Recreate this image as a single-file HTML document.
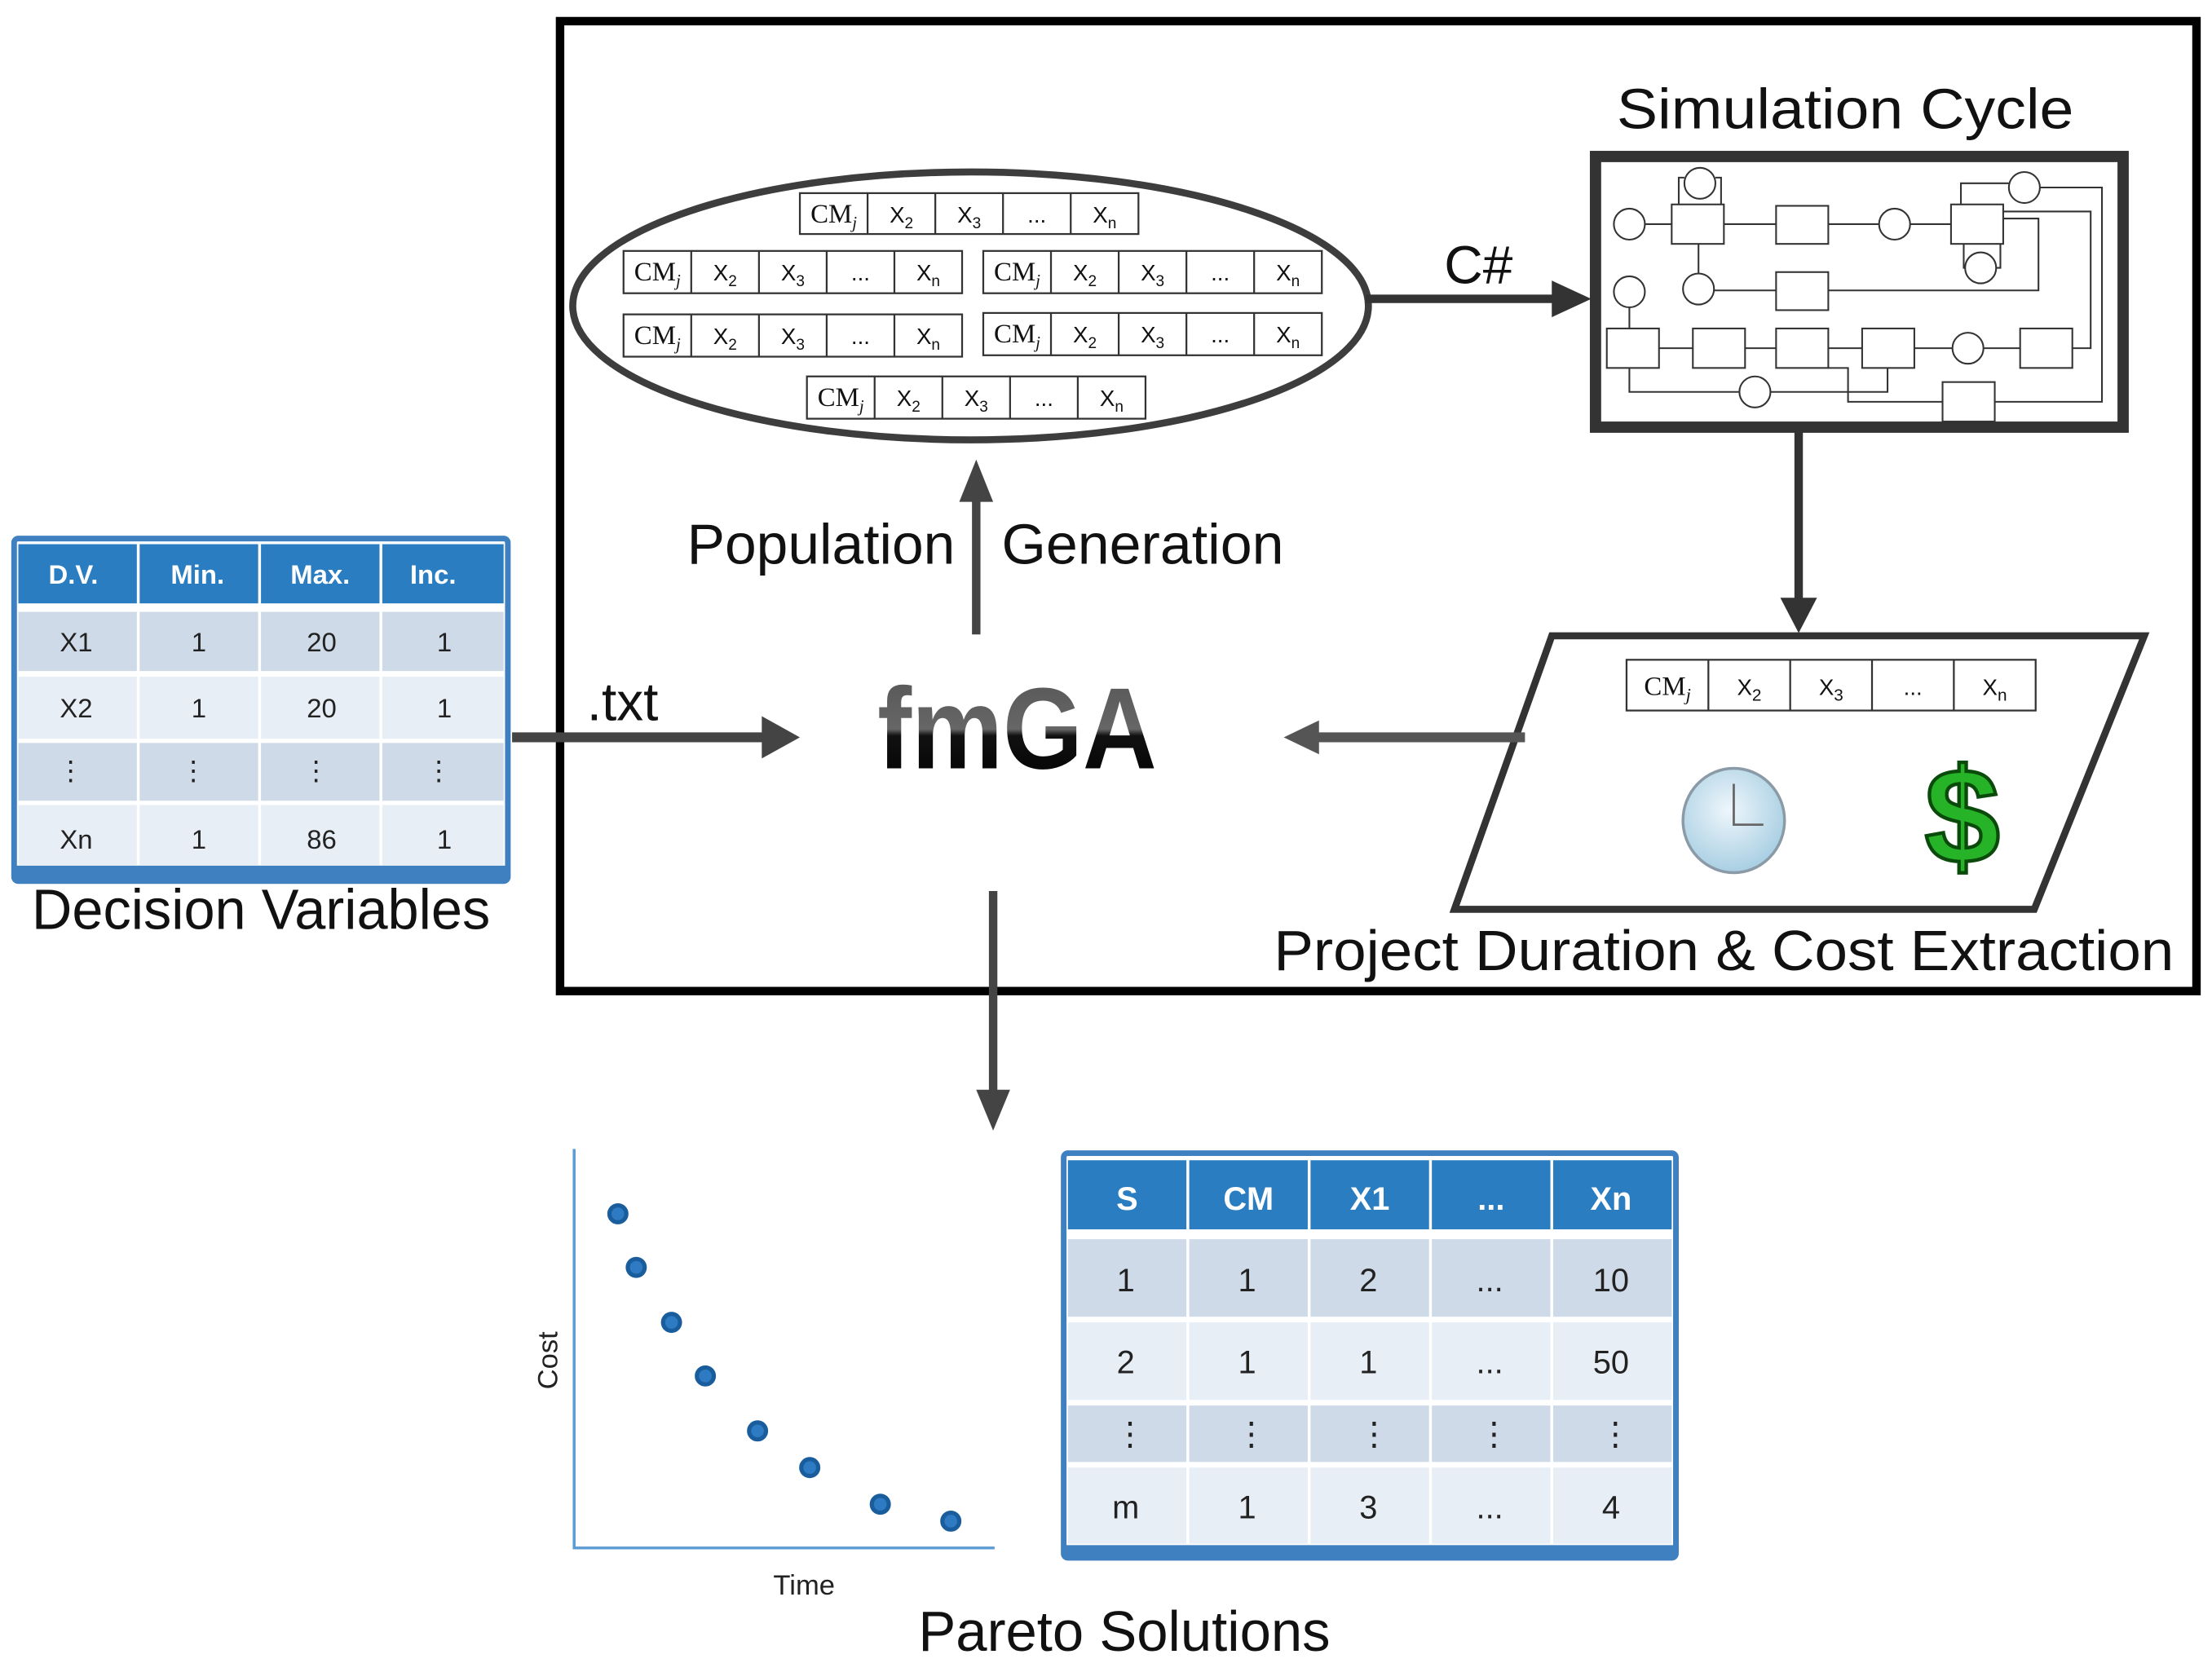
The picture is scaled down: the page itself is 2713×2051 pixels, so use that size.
<!DOCTYPE html>
<html><head><meta charset="utf-8"><style>
html,body{margin:0;padding:0;background:#fff;}
svg{display:block;}
text{font-family:"Liberation Sans",sans-serif;}
.cm{font-family:"Liberation Serif",serif;font-size:19px;fill:#111;}
.sm{font-family:"Liberation Sans",sans-serif;font-size:16px;fill:#111;}
.hd{font-family:"Liberation Sans",sans-serif;font-weight:bold;fill:#fff;}
.td{font-family:"Liberation Sans",sans-serif;fill:#222;}
</style></head><body>
<svg width="2713" height="2051" viewBox="0 0 1568 1186" preserveAspectRatio="none" xmlns="http://www.w3.org/2000/svg">
<defs>
<linearGradient id="fg" x1="0" y1="0" x2="0" y2="1">
<stop offset="0" stop-color="#555"/><stop offset="0.5" stop-color="#666"/><stop offset="0.55" stop-color="#111"/><stop offset="1" stop-color="#000"/>
</linearGradient>
<radialGradient id="clk" cx="0.45" cy="0.4" r="0.6"><stop offset="0" stop-color="#eef6fb"/><stop offset="1" stop-color="#a9cfe3"/></radialGradient>
</defs>

<!-- outer box -->
<rect x="397" y="15" width="1160" height="688" fill="none" stroke="#000" stroke-width="6"/>

<!-- ellipse population -->
<ellipse cx="688" cy="217" rx="282" ry="95" fill="none" stroke="#3d3d3d" stroke-width="5"/>

<!-- chromosome rows -->
<g id="r1" transform="translate(567,137)">
<rect width="240" height="29" fill="#fff" stroke="#333" stroke-width="1.3"/>
<path d="M48 0V29M96 0V29M144 0V29M192 0V29" stroke="#333" stroke-width="1.3"/>
<text x="24" y="21" text-anchor="middle" class="cm">CM<tspan font-size="12" dy="4" font-style="italic">j</tspan></text>
<text x="72" y="21" text-anchor="middle" class="sm">X<tspan font-size="11" dy="4">2</tspan></text>
<text x="120" y="21" text-anchor="middle" class="sm">X<tspan font-size="11" dy="4">3</tspan></text>
<text x="168" y="21" text-anchor="middle" class="sm">...</text>
<text x="216" y="21" text-anchor="middle" class="sm">X<tspan font-size="11" dy="4">n</tspan></text>
</g>
<g transform="translate(442,178)">
<rect width="240" height="30" fill="#fff" stroke="#333" stroke-width="1.3"/>
<path d="M48 0V30M96 0V30M144 0V30M192 0V30" stroke="#333" stroke-width="1.3"/>
<text x="24" y="21" text-anchor="middle" class="cm">CM<tspan font-size="12" dy="4" font-style="italic">j</tspan></text>
<text x="72" y="21" text-anchor="middle" class="sm">X<tspan font-size="11" dy="4">2</tspan></text>
<text x="120" y="21" text-anchor="middle" class="sm">X<tspan font-size="11" dy="4">3</tspan></text>
<text x="168" y="21" text-anchor="middle" class="sm">...</text>
<text x="216" y="21" text-anchor="middle" class="sm">X<tspan font-size="11" dy="4">n</tspan></text>
</g>
<g transform="translate(697,178)">
<rect width="240" height="30" fill="#fff" stroke="#333" stroke-width="1.3"/>
<path d="M48 0V30M96 0V30M144 0V30M192 0V30" stroke="#333" stroke-width="1.3"/>
<text x="24" y="21" text-anchor="middle" class="cm">CM<tspan font-size="12" dy="4" font-style="italic">j</tspan></text>
<text x="72" y="21" text-anchor="middle" class="sm">X<tspan font-size="11" dy="4">2</tspan></text>
<text x="120" y="21" text-anchor="middle" class="sm">X<tspan font-size="11" dy="4">3</tspan></text>
<text x="168" y="21" text-anchor="middle" class="sm">...</text>
<text x="216" y="21" text-anchor="middle" class="sm">X<tspan font-size="11" dy="4">n</tspan></text>
</g>
<g transform="translate(442,223)">
<rect width="240" height="30" fill="#fff" stroke="#333" stroke-width="1.3"/>
<path d="M48 0V30M96 0V30M144 0V30M192 0V30" stroke="#333" stroke-width="1.3"/>
<text x="24" y="21" text-anchor="middle" class="cm">CM<tspan font-size="12" dy="4" font-style="italic">j</tspan></text>
<text x="72" y="21" text-anchor="middle" class="sm">X<tspan font-size="11" dy="4">2</tspan></text>
<text x="120" y="21" text-anchor="middle" class="sm">X<tspan font-size="11" dy="4">3</tspan></text>
<text x="168" y="21" text-anchor="middle" class="sm">...</text>
<text x="216" y="21" text-anchor="middle" class="sm">X<tspan font-size="11" dy="4">n</tspan></text>
</g>
<g transform="translate(697,222)">
<rect width="240" height="30" fill="#fff" stroke="#333" stroke-width="1.3"/>
<path d="M48 0V30M96 0V30M144 0V30M192 0V30" stroke="#333" stroke-width="1.3"/>
<text x="24" y="21" text-anchor="middle" class="cm">CM<tspan font-size="12" dy="4" font-style="italic">j</tspan></text>
<text x="72" y="21" text-anchor="middle" class="sm">X<tspan font-size="11" dy="4">2</tspan></text>
<text x="120" y="21" text-anchor="middle" class="sm">X<tspan font-size="11" dy="4">3</tspan></text>
<text x="168" y="21" text-anchor="middle" class="sm">...</text>
<text x="216" y="21" text-anchor="middle" class="sm">X<tspan font-size="11" dy="4">n</tspan></text>
</g>
<g transform="translate(572,267)">
<rect width="240" height="30" fill="#fff" stroke="#333" stroke-width="1.3"/>
<path d="M48 0V30M96 0V30M144 0V30M192 0V30" stroke="#333" stroke-width="1.3"/>
<text x="24" y="21" text-anchor="middle" class="cm">CM<tspan font-size="12" dy="4" font-style="italic">j</tspan></text>
<text x="72" y="21" text-anchor="middle" class="sm">X<tspan font-size="11" dy="4">2</tspan></text>
<text x="120" y="21" text-anchor="middle" class="sm">X<tspan font-size="11" dy="4">3</tspan></text>
<text x="168" y="21" text-anchor="middle" class="sm">...</text>
<text x="216" y="21" text-anchor="middle" class="sm">X<tspan font-size="11" dy="4">n</tspan></text>
</g>

<!-- C# arrow -->
<line x1="968" y1="212" x2="1105" y2="212" stroke="#333" stroke-width="6"/>
<polygon points="1100,199 1128,212 1100,225" fill="#333"/>
<text x="1048" y="201" font-size="38" text-anchor="middle" fill="#111">C#</text>

<!-- Simulation cycle -->
<text x="1308" y="91" font-size="40" text-anchor="middle" textLength="324" lengthAdjust="spacingAndGlyphs" fill="#111">Simulation Cycle</text>
<rect x="1131" y="111" width="374" height="192" fill="#fff" stroke="#333" stroke-width="8"/>
<g fill="#fff" stroke="#333" stroke-width="1.2">
<rect x="1185" y="145" width="37" height="28"/>
<rect x="1259" y="146" width="37" height="27"/>
<rect x="1383" y="145" width="37" height="28"/>
<rect x="1259" y="193" width="37" height="27"/>
<rect x="1139" y="233" width="37" height="28"/>
<rect x="1200" y="233" width="37" height="28"/>
<rect x="1259" y="233" width="37" height="28"/>
<rect x="1320" y="233" width="37" height="28"/>
<rect x="1432" y="233" width="37" height="28"/>
<rect x="1377" y="271" width="37" height="28"/>
<circle cx="1205" cy="130" r="11"/>
<circle cx="1155" cy="159" r="11"/>
<circle cx="1343" cy="159" r="11"/>
<circle cx="1435" cy="133" r="11"/>
<circle cx="1404" cy="190" r="11"/>
<circle cx="1204" cy="205" r="11"/>
<circle cx="1155" cy="207" r="11"/>
<circle cx="1395" cy="247" r="11"/>
<circle cx="1244" cy="278" r="11"/>
</g>
<g fill="none" stroke="#333" stroke-width="1.2">
<path d="M1166 159H1185M1222 159H1259M1296 159H1332M1354 159H1383"/>
<path d="M1204 194V173M1259 206H1215M1420 155H1445V206H1296"/>
<path d="M1420 150H1482V247H1469M1432 247H1406M1384 247H1357M1320 247H1296M1259 247H1237M1200 247H1176"/>
<path d="M1155 233V218M1155 261V278H1233M1255 278H1338V261M1296 261H1310V285H1377M1414 285H1490V133H1446"/>
<path d="M1190 145V126H1194M1216 126H1220V145M1390 145V130H1424M1392 173V190H1393M1415 190H1418V173"/>
</g>

<!-- down arrow to parallelogram -->
<line x1="1275" y1="305" x2="1275" y2="428" stroke="#333" stroke-width="6"/>
<polygon points="1262,424 1288,424 1275,449" fill="#333"/>

<!-- parallelogram -->
<polygon points="1100,451 1520,451 1442,645 1031,645" fill="#fff" stroke="#333" stroke-width="5"/>
<g transform="translate(1153,468)">
<rect width="290" height="36" fill="#fff" stroke="#333" stroke-width="1.3"/>
<path d="M58 0V36M116 0V36M174 0V36M232 0V36" stroke="#333" stroke-width="1.3"/>
<text x="29" y="25" text-anchor="middle" class="cm" font-size="22">CM<tspan font-size="13" dy="4" font-style="italic">j</tspan></text>
<text x="87" y="25" text-anchor="middle" class="sm" font-size="19">X<tspan font-size="12" dy="4">2</tspan></text>
<text x="145" y="25" text-anchor="middle" class="sm" font-size="19">X<tspan font-size="12" dy="4">3</tspan></text>
<text x="203" y="25" text-anchor="middle" class="sm" font-size="19">...</text>
<text x="261" y="25" text-anchor="middle" class="sm" font-size="19">X<tspan font-size="12" dy="4">n</tspan></text>
</g>
<ellipse cx="1229" cy="582" rx="36" ry="37" fill="url(#clk)" stroke="#8a9aa6" stroke-width="2"/>
<path d="M1229 556V585H1250" stroke="#666" stroke-width="1.6" fill="none"/>
<text x="1391" y="612" font-size="96" font-weight="bold" text-anchor="middle" fill="#27b327" stroke="#0a4a0a" stroke-width="2.5">$</text>
<text x="1222" y="688" font-size="40" text-anchor="middle" textLength="638" lengthAdjust="spacingAndGlyphs" fill="#111">Project Duration &amp; Cost Extraction</text>

<!-- arrow to fmGA -->
<line x1="1081" y1="523" x2="930" y2="523" stroke="#555" stroke-width="7"/>
<polygon points="935,511 910,523 935,535" fill="#555"/>

<!-- fmGA -->
<text x="721" y="545" font-size="82" font-weight="bold" text-anchor="middle" textLength="198" lengthAdjust="spacingAndGlyphs" fill="url(#fg)" stroke="#fff" stroke-width="1" style="paint-order:stroke">fmGA</text>

<!-- up arrow -->
<line x1="692" y1="450" x2="692" y2="350" stroke="#444" stroke-width="6"/>
<polygon points="680,356 692,326 704,356" fill="#444"/>
<text x="677" y="400" font-size="40" text-anchor="end" textLength="190" lengthAdjust="spacingAndGlyphs" fill="#111">Population</text>
<text x="710" y="400" font-size="40" textLength="200" lengthAdjust="spacingAndGlyphs" fill="#111">Generation</text>

<!-- .txt arrow -->
<line x1="363" y1="523" x2="545" y2="523" stroke="#444" stroke-width="7"/>
<polygon points="540,508 567,523 540,538" fill="#444"/>
<text x="416" y="511" font-size="38" fill="#111">.txt</text>

<!-- Decision table -->
<rect x="10" y="382" width="350" height="243" rx="3" fill="#fff" stroke="#3f80c0" stroke-width="4"/>
<rect x="10" y="614" width="350" height="10" fill="#3f80c0"/>
<g fill="#2a7dc0">
<rect x="13" y="386" width="84" height="42"/><rect x="99" y="386" width="84" height="42"/><rect x="185" y="386" width="84" height="42"/><rect x="271" y="386" width="86" height="42"/>
</g>
<g fill="#cfdae8">
<rect x="13" y="434" width="84" height="42"/><rect x="99" y="434" width="84" height="42"/><rect x="185" y="434" width="84" height="42"/><rect x="271" y="434" width="86" height="42"/>
<rect x="13" y="527" width="84" height="41"/><rect x="99" y="527" width="84" height="41"/><rect x="185" y="527" width="84" height="41"/><rect x="271" y="527" width="86" height="41"/>
</g>
<g fill="#e8eef6">
<rect x="13" y="480" width="84" height="44"/><rect x="99" y="480" width="84" height="44"/><rect x="185" y="480" width="84" height="44"/><rect x="271" y="480" width="86" height="44"/>
<rect x="13" y="571" width="84" height="43"/><rect x="99" y="571" width="84" height="43"/><rect x="185" y="571" width="84" height="43"/><rect x="271" y="571" width="86" height="43"/>
</g>
<g class="hd" font-size="19" text-anchor="middle">
<text x="52" y="414">D.V.</text><text x="140" y="414">Min.</text><text x="227" y="414">Max.</text><text x="307" y="414">Inc.</text>
</g>
<g class="td" font-size="19" text-anchor="middle">
<text x="54" y="462">X1</text><text x="141" y="462">1</text><text x="228" y="462">20</text><text x="315" y="462">1</text>
<text x="54" y="509">X2</text><text x="141" y="509">1</text><text x="228" y="509">20</text><text x="315" y="509">1</text>
<text x="50" y="553">⋮</text><text x="137" y="553">⋮</text><text x="224" y="553">⋮</text><text x="311" y="553">⋮</text>
<text x="54" y="602">Xn</text><text x="141" y="602">1</text><text x="228" y="602">86</text><text x="315" y="602">1</text>
</g>
<text x="185" y="659" font-size="40" text-anchor="middle" textLength="325" lengthAdjust="spacingAndGlyphs" fill="#111">Decision Variables</text>

<!-- down arrow to results -->
<line x1="704" y1="632" x2="704" y2="778" stroke="#444" stroke-width="6"/>
<polygon points="692,773 716,773 704,802" fill="#444"/>

<!-- plot -->
<path d="M407 815V1098H705" fill="none" stroke="#5b9bd5" stroke-width="2"/>
<g fill="#2e7bc4" stroke="#1a5d9c" stroke-width="3">
<circle cx="438" cy="861" r="6"/><circle cx="451" cy="899" r="6"/><circle cx="476" cy="938" r="6"/><circle cx="500" cy="976" r="6"/><circle cx="537" cy="1015" r="6"/><circle cx="574" cy="1041" r="6"/><circle cx="624" cy="1067" r="6"/><circle cx="674" cy="1079" r="6"/>
</g>
<text x="0" y="0" font-size="20" text-anchor="middle" fill="#222" transform="translate(395,965) rotate(-90)">Cost</text>
<text x="570" y="1131" font-size="20" text-anchor="middle" fill="#222">Time</text>

<!-- Pareto table -->
<rect x="754" y="818" width="434" height="287" rx="3" fill="#fff" stroke="#3f80c0" stroke-width="4"/>
<rect x="754" y="1096" width="434" height="9" fill="#3f80c0"/>
<g fill="#2a7dc0">
<rect x="757" y="823" width="84" height="49"/><rect x="843" y="823" width="84" height="49"/><rect x="929" y="823" width="84" height="49"/><rect x="1015" y="823" width="84" height="49"/><rect x="1101" y="823" width="84" height="49"/>
</g>
<g fill="#cfdae8">
<rect x="757" y="879" width="84" height="55"/><rect x="843" y="879" width="84" height="55"/><rect x="929" y="879" width="84" height="55"/><rect x="1015" y="879" width="84" height="55"/><rect x="1101" y="879" width="84" height="55"/>
<rect x="757" y="997" width="84" height="40"/><rect x="843" y="997" width="84" height="40"/><rect x="929" y="997" width="84" height="40"/><rect x="1015" y="997" width="84" height="40"/><rect x="1101" y="997" width="84" height="40"/>
</g>
<g fill="#e8eef6">
<rect x="757" y="938" width="84" height="55"/><rect x="843" y="938" width="84" height="55"/><rect x="929" y="938" width="84" height="55"/><rect x="1015" y="938" width="84" height="55"/><rect x="1101" y="938" width="84" height="55"/>
<rect x="757" y="1041" width="84" height="54"/><rect x="843" y="1041" width="84" height="54"/><rect x="929" y="1041" width="84" height="54"/><rect x="1015" y="1041" width="84" height="54"/><rect x="1101" y="1041" width="84" height="54"/>
</g>
<g class="hd" font-size="23" text-anchor="middle">
<text x="799" y="858">S</text><text x="885" y="858">CM</text><text x="971" y="858">X1</text><text x="1057" y="858">...</text><text x="1142" y="858">Xn</text>
</g>
<g class="td" font-size="23" text-anchor="middle">
<text x="798" y="916">1</text><text x="884" y="916">1</text><text x="970" y="916">2</text><text x="1056" y="916">...</text><text x="1142" y="916">10</text>
<text x="798" y="974">2</text><text x="884" y="974">1</text><text x="970" y="974">1</text><text x="1056" y="974">...</text><text x="1142" y="974">50</text>
<text x="801" y="1025">⋮</text><text x="887" y="1025">⋮</text><text x="974" y="1025">⋮</text><text x="1059" y="1025">⋮</text><text x="1145" y="1025">⋮</text>
<text x="798" y="1077">m</text><text x="884" y="1077">1</text><text x="970" y="1077">3</text><text x="1056" y="1077">...</text><text x="1142" y="1077">4</text>
</g>
<text x="797" y="1171" font-size="40" text-anchor="middle" textLength="292" lengthAdjust="spacingAndGlyphs" fill="#111">Pareto Solutions</text>
</svg>
</body></html>
